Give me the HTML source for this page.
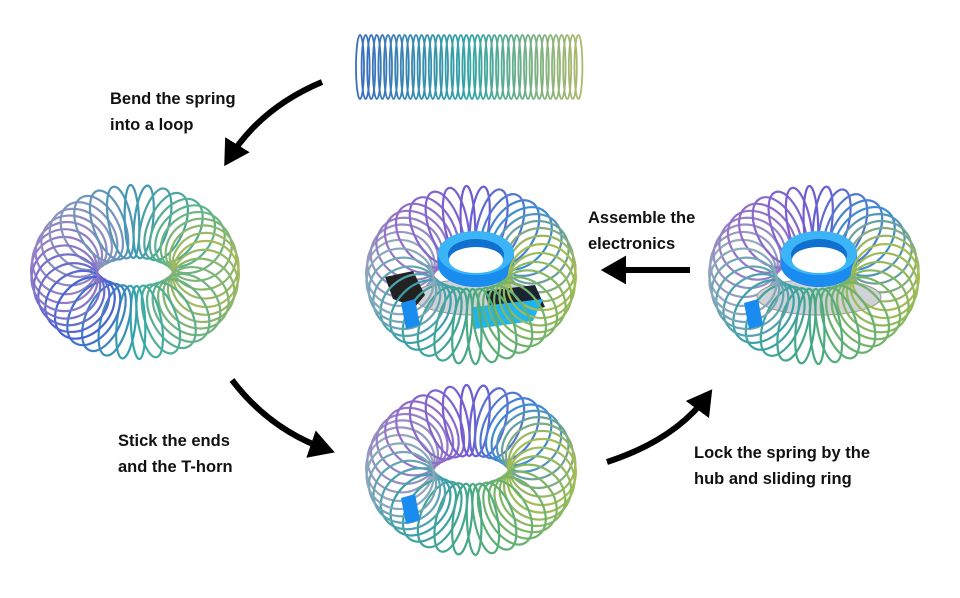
<!DOCTYPE html>
<html><head><meta charset="utf-8"><style>
html,body{margin:0;padding:0;background:#fff;width:960px;height:598px;overflow:hidden}
svg{position:absolute;left:0;top:0}
.t{font-family:"Liberation Sans",sans-serif;font-weight:bold;font-size:16.5px;fill:#111}
</style></head><body>
<svg id="s" width="960" height="598" viewBox="0 0 960 598">
<defs>
<marker id="ah" markerWidth="6" markerHeight="6" refX="3" refY="3" orient="auto" markerUnits="strokeWidth">
<path d="M0,0.6 L4.2,3 L0,5.4 z" fill="#000"/></marker>
</defs>
<g id="spr"></g>
<g id="tori"></g>
<path d="M322,82 Q260,108 228,160" fill="none" stroke="#000" stroke-width="6" marker-end="url(#ah)"/>
<path d="M232,380 Q270,430 328,450" fill="none" stroke="#000" stroke-width="6" marker-end="url(#ah)"/>
<path d="M607,462 Q675,440 708,395" fill="none" stroke="#000" stroke-width="6" marker-end="url(#ah)"/>
<path d="M690,270 L608,270" fill="none" stroke="#000" stroke-width="6" marker-end="url(#ah)"/>
<text class="t" x="110" y="104">Bend the spring</text>
<text class="t" x="110" y="130">into a loop</text>
<text class="t" x="588" y="223">Assemble the</text>
<text class="t" x="588" y="249">electronics</text>
<text class="t" x="118" y="446">Stick the ends</text>
<text class="t" x="118" y="472">and the T-horn</text>
<text class="t" x="694" y="458">Lock the spring by the</text>
<text class="t" x="694" y="484">hub and sliding ring</text>
</svg>
<script>
const NS="http://www.w3.org/2000/svg";
function el(p,n,a){const e=document.createElementNS(NS,n);for(const k in a)e.setAttribute(k,a[k]);p.appendChild(e);return e;}
const pal1=[[0,[170,185,90]],[90,[50,170,170]],[135,[70,100,210]],[180,[150,120,200]],[225,[140,150,190]],[270,[60,150,180]],[315,[90,180,140]],[360,[170,185,90]]];
const pal2=[[0,[170,190,80]],[90,[70,170,130]],[135,[60,160,170]],[180,[150,170,190]],[225,[150,110,200]],[270,[110,90,210]],[315,[60,140,210]],[360,[170,190,80]]];
function pcol(pal,deg){deg=((deg%360)+360)%360;for(let i=1;i<pal.length;i++){if(deg<=pal[i][0]){const a=pal[i-1],b=pal[i];const u=(deg-a[0])/(b[0]-a[0]);return 'rgb('+a[1].map((v,j)=>Math.round(v+(b[1][j]-v)*u))+')';}}return 'rgb(170,190,80)';}
const tori=document.getElementById('tori');
function torus(cx,cy,ox,oy,pal,hub,horn){
 const g=el(tori,'g',{});
 const ix=38,iy=14,N=38,W=27,w0=6;
 const loops=[];
 for(let i=0;i<N;i++){const th=2*Math.PI*i/N+0.04;
  const x1=cx+ix*Math.cos(th),y1=cy+iy*Math.sin(th),x2=cx+ox*Math.cos(th),y2=cy+oy*Math.sin(th);
  const mx=(x1+x2)/2,my=(y1+y2)/2,a=Math.hypot(x2-x1,y2-y1)/2,ang=Math.atan2(y2-y1,x2-x1)*180/Math.PI;
  const b=W*Math.abs(Math.cos(th))+w0;
  loops.push({th,mx,my,a,b,ang});}
 const draw=l=>el(g,'ellipse',{cx:l.mx.toFixed(1),cy:l.my.toFixed(1),rx:l.a.toFixed(1),ry:l.b.toFixed(1),transform:`rotate(${l.ang.toFixed(1)} ${l.mx.toFixed(1)} ${l.my.toFixed(1)})`,fill:'none',stroke:pcol(pal,l.th*180/Math.PI),'stroke-width':2.2});
 loops.filter(l=>Math.sin(l.th)<0).forEach(draw);
 if(hub){
  el(g,'ellipse',{cx:cx+5,cy:cy+22,rx:62,ry:18,fill:'#cfd2d6',stroke:'#999'});
  el(g,'rect',{x:cx-33,y:cy-22,width:76,height:12,fill:'#1a8cf0'});
  el(g,'ellipse',{cx:cx+5,cy:cy-10,rx:38,ry:22,fill:'#1a8cf0'});
  el(g,'ellipse',{cx:cx+5,cy:cy-22,rx:38,ry:22,fill:'#3cb4f8'});
  el(g,'ellipse',{cx:cx+5,cy:cy-20,rx:28,ry:16,fill:'#1070d0'});
  el(g,'ellipse',{cx:cx+5,cy:cy-15,rx:27,ry:13,fill:'#fff'});
 }
 if(hub===2){
  el(g,'path',{d:`M${cx-86},${cy+2} l28,-6 l12,24 l-10,12 l-22,-8 z`,fill:'#222'});
  el(g,'path',{d:`M${cx+14},${cy+16} l50,-6 l10,22 l-54,12 z`,fill:'#1a2430'});
  el(g,'path',{d:`M${cx+2},${cy+32} l70,-8 l-10,22 l-58,8 z`,fill:'#20b4f0'});
 }
 loops.filter(l=>Math.sin(l.th)>=0).forEach(draw);
 if(horn){el(g,'path',{d:`M${cx-70},${cy+28} l14,-4 l5,26 l-14,4 z`,fill:'#1a8cf0'});}
}
torus(135,272,104,87,pal1,0,false);
torus(471,275,105,89,pal2,2,true);
torus(814,275,105,89,pal2,1,true);
torus(471,470,105,85,pal2,0,true);
const stops=[[0,[60,110,190]],[0.5,[50,165,165]],[1,[170,185,110]]];
function col(t){for(let i=1;i<stops.length;i++){if(t<=stops[i][0]){const a=stops[i-1],b=stops[i];const u=(t-a[0])/(b[0]-a[0]);return 'rgb('+a[1].map((v,j)=>Math.round(v+(b[1][j]-v)*u))+')';}}return 'rgb(170,185,110)';}
const sp=document.getElementById('spr');
for(let i=0;i<40;i++){const x=360+i*5.6;const t=i/39;
 el(sp,'ellipse',{cx:x,cy:67,rx:4,ry:32,fill:'none',stroke:col(t),'stroke-width':1.8});}
</script>
</body></html>
